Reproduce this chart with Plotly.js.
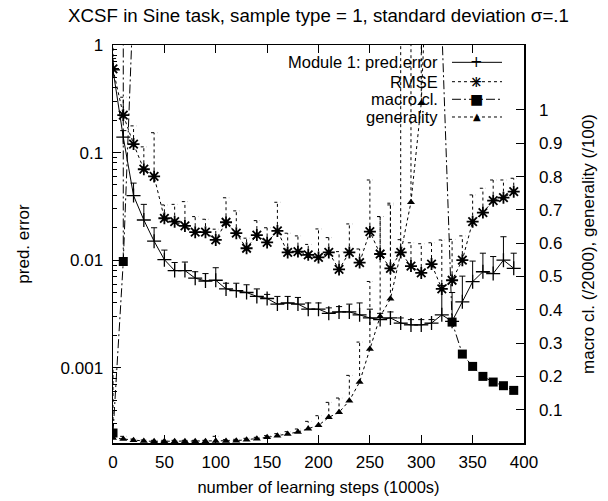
<!DOCTYPE html>
<html>
<head>
<meta charset="utf-8">
<script src="https://cdn.plot.ly/plotly-3.0.1.min.js"></script>
<style>html,body{margin:0;padding:0;background:#fff;}#chart{width:608px;height:501px;}</style>
</head>
<body>
<div id="chart"></div>
<script>
// ---- data (learning steps in 1000s) ----
const steps = [0,10,20,30,40,50,60,70,80,90,100,110,120,130,140,150,160,170,180,190,200,210,220,230,240,250,260,270,280,290,300,310,320,330,340,350,360,370,380,390];

const predErr = [0.586,0.139,0.0398,0.0236,0.0150,0.0101,0.0080,0.0080,0.0068,0.0064,
  0.0065,0.0054,0.0052,0.0050,0.0046,0.0044,0.0039,0.0040,0.0039,0.0035,
  0.0035,0.0032,0.0033,0.0033,0.0031,0.0029,0.0028,0.0029,0.0026,0.0025,
  0.0025,0.0026,0.0031,0.0027,0.0041,0.0063,0.0078,0.0075,0.0100,0.0084];
const predErrTop = [0.75,0.16,0.052,0.033,0.020,0.0124,0.0095,0.0096,0.0078,0.0075,
  0.0085,0.0061,0.0061,0.0059,0.0054,0.0048,0.0046,0.0046,0.0045,0.0040,
  0.0040,0.0036,0.0037,0.0039,0.0040,0.0035,0.0032,0.0033,0.0029,0.0028,
  0.0028,0.0028,0.0058,0.0050,0.0071,0.0098,0.0116,0.0108,0.0165,0.0116];

const rmse = [0.60,0.223,0.120,0.070,0.060,0.0245,0.0228,0.0208,0.0182,0.0182,
  0.0154,0.0225,0.0178,0.0129,0.0171,0.0146,0.0187,0.0118,0.0120,0.0112,
  0.0106,0.0118,0.0082,0.0118,0.0095,0.0184,0.0114,0.0084,0.0118,0.0088,
  0.0076,0.0092,0.0054,0.0065,0.0100,0.0228,0.0277,0.0357,0.0381,0.0433];
const rmseTop = [1.5,0.327,0.177,0.113,0.153,0.0326,0.033,0.035,0.0254,0.024,
  0.0194,0.038,0.0287,0.016,0.0233,0.020,0.0345,0.0178,0.0168,0.014,
  0.0195,0.0162,0.012,0.0217,0.0127,0.0556,0.0254,0.0326,0.0155,0.0145,
  0.0142,0.0145,0.0154,0.0156,0.0168,0.0404,0.0466,0.0556,0.0556,0.0577];

// macro classifiers (/2000), right axis
const macroCl = [0.03,0.545,1.35,1.6,1.7,1.75,1.8,1.8,1.85,1.85,
  1.9,1.9,1.9,1.9,1.9,1.9,1.9,1.85,1.85,1.85,
  1.8,1.8,1.75,1.75,1.7,1.7,1.65,1.6,1.55,1.5,
  1.45,1.4,1.25,0.363,0.267,0.23,0.20,0.183,0.172,0.158];
const macroClTop = [null,1.6,null,null,null,null,null,null,null,null,
  null,null,null,null,null,null,null,null,null,null,
  null,null,null,null,null,null,null,null,null,null,
  null,null,null,null,null,null,null,null,null,null];

// generality (/100), right axis
const generality = [0.015,0.012,0.008,0.006,0.005,0.005,0.005,0.005,0.005,0.005,
  0.006,0.006,0.007,0.010,0.013,0.017,0.022,0.027,0.033,0.043,
  0.053,0.077,0.092,0.127,0.183,0.282,0.38,0.433,0.57,0.723,
  1.02,1.8,2.2,2.4,2.6,2.7,2.8,2.9,2.95,3.0];
const generalityTop = [0.22,0.02,0.012,0.009,0.008,0.008,0.008,0.008,0.008,0.008,
  0.02,0.01,0.011,0.014,0.017,0.022,0.028,0.034,0.042,0.065,
  0.082,0.122,0.135,0.203,0.303,0.485,0.68,0.72,1.5,1.6,
  1.7,2.5,2.8,3.0,3.2,3.3,3.4,3.5,3.5,3.6];

const xTicks = [0,50,100,150,200,250,300,350,400];
const yTicks = [0.001,0.01,0.1,1];
const yTickText = ['0.001','0.01','0.1','1'];
const y2Ticks = [0.1,0.2,0.3,0.4,0.5,0.6,0.7,0.8,0.9,1];
const y2TickText = ['0.1','0.2','0.3','0.4','0.5','0.6','0.7','0.8','0.9','1'];

const seriesNames = ['Module 1: pred.error','RMSE','macro cl.','generality'];
const titleText = 'XCSF in Sine task, sample type = 1, standard deviation σ=.1';

// ---- helpers ----
const FONT = 'Liberation Sans, Arial, Helvetica, sans-serif';
const CAP = 3; // half cap width in x units
function errSegs(xs, lo, hi) {
  const X = [], Y = [];
  for (let i = 0; i < xs.length; i++) {
    if (hi[i] == null) continue;
    X.push(xs[i], xs[i], null, xs[i] - CAP, xs[i] + CAP, null);
    Y.push(lo[i], hi[i], null, hi[i], hi[i], null);
  }
  return {X, Y};
}
const DASH_RMSE = '3px,3px';
const DASH_GEN = '3px,3px';
const DASH_MACRO = '9px,3px,2px,3px';

const ePred = errSegs(steps, predErr, predErrTop);
const eRmse = errSegs(steps, rmse, rmseTop);
const eMacro = errSegs(steps, macroCl, macroClTop);
const eGen = errSegs(steps, generality, generalityTop);

const traces = [
  {x: ePred.X, y: ePred.Y, mode: 'lines', line: {color: 'black', width: 1}, hoverinfo: 'skip', showlegend: false},
  {x: steps, y: predErr, name: seriesNames[0], mode: 'lines+markers',
   line: {color: 'black', width: 1},
   marker: {symbol: 'cross-thin', size: 10, color: 'black', line: {color: 'black', width: 1.3}}},
  {x: eRmse.X, y: eRmse.Y, mode: 'lines', line: {color: 'black', width: 1, dash: DASH_RMSE}, hoverinfo: 'skip', showlegend: false},
  {x: steps, y: rmse, name: seriesNames[1], mode: 'lines+markers',
   line: {color: 'black', width: 1, dash: DASH_RMSE},
   marker: {symbol: 'asterisk', size: 10, color: 'black', line: {color: 'black', width: 1.8}}},
  {x: eMacro.X, y: eMacro.Y, yaxis: 'y2', mode: 'lines', line: {color: 'black', width: 1, dash: DASH_MACRO}, hoverinfo: 'skip', showlegend: false},
  {x: steps, y: macroCl, yaxis: 'y2', name: seriesNames[2], mode: 'lines+markers',
   line: {color: 'black', width: 1, dash: DASH_MACRO},
   marker: {symbol: 'square', size: 9, color: 'black'}},
  {x: eGen.X, y: eGen.Y, yaxis: 'y2', mode: 'lines', line: {color: 'black', width: 1, dash: DASH_GEN}, hoverinfo: 'skip', showlegend: false},
  {x: steps, y: generality, yaxis: 'y2', name: seriesNames[3], mode: 'lines+markers',
   line: {color: 'black', width: 1, dash: DASH_GEN},
   marker: {symbol: 'triangle-up', size: 7, color: 'black'}}
];

// ---- gnuplot-like key (text right-aligned, sample to the right) ----
const keyRows = [0.9565, 0.9078, 0.8636, 0.8191];
const keyTextX = 0.7956, keyL0 = 0.8248, keyL1 = 0.9465, keyMid = 0.8856;
const keyDash = ['solid', DASH_RMSE, DASH_MACRO, DASH_GEN];
const keyGlyphs = [['+'], ['+', '×'], ['■'], ['▲']];
const keyGlyphSize = [[15], [15, 15], [14], [10]];
const annotations = [], shapes = [];
seriesNames.forEach((n, i) => {
  annotations.push({xref: 'paper', yref: 'paper', x: keyTextX, y: keyRows[i], xanchor: 'right', yanchor: 'middle',
    text: n, showarrow: false, font: {family: FONT, size: 16.5, color: 'black'}});
  shapes.push({type: 'line', xref: 'paper', yref: 'paper', x0: keyL0, x1: keyL1, y0: keyRows[i], y1: keyRows[i],
    line: {color: 'black', width: 1, dash: keyDash[i]}});
  keyGlyphs[i].forEach((g, j) => {
    annotations.push({xref: 'paper', yref: 'paper', x: keyMid, y: keyRows[i], xanchor: 'center', yanchor: 'middle',
      text: g, showarrow: false, font: {family: 'DejaVu Sans', size: keyGlyphSize[i][j], color: 'black'}});
  });
});

const layout = {
  width: 608, height: 501,
  margin: {l: 113, r: 84, t: 45, b: 58},
  paper_bgcolor: 'white', plot_bgcolor: 'white',
  font: {family: FONT, size: 17, color: 'black'},
  showlegend: false,
  title: {text: titleText, x: 0.5, xref: 'paper', xanchor: 'center', y: 0.97, yref: 'container', yanchor: 'middle',
          font: {family: FONT, size: 18.7, color: 'black'}},
  xaxis: {range: [0, 400], tickvals: xTicks, ticktext: xTicks.map(String), ticks: 'inside', ticklen: 8, tickwidth: 1,
          tickcolor: 'black', showline: true, linecolor: 'black', linewidth: 1.5, mirror: 'ticks',
          showgrid: false, zeroline: false, ticklabelstandoff: 3,
          title: {text: 'number of learning steps (1000s)', standoff: 10, font: {family: FONT, size: 16.5}}},
  yaxis: {type: 'log', range: [-3.70, 0], tickvals: yTicks, ticktext: yTickText, ticks: 'inside', ticklen: 8,
          tickwidth: 1, tickcolor: 'black', showline: true, linecolor: 'black', linewidth: 1.5, mirror: true,
          showgrid: false, zeroline: false, ticklabelstandoff: 5,
          minor: {ticks: 'inside', ticklen: 4, dtick: 'D1', tickcolor: 'black', showgrid: false},
          title: {text: 'pred. error', standoff: 26, font: {family: FONT, size: 17}}},
  yaxis2: {overlaying: 'y', side: 'right', range: [0, 1.195], tickvals: y2Ticks, ticktext: y2TickText,
           ticks: 'inside', ticklen: 8, tickwidth: 1, tickcolor: 'black', showline: true, linecolor: 'black',
           linewidth: 1.5, showgrid: false, zeroline: false, ticklabelstandoff: 10,
           title: {text: 'macro cl. (/2000), generality (/100)', standoff: 20, font: {family: FONT, size: 17}}},
  annotations: annotations,
  shapes: shapes
};

Plotly.newPlot('chart', traces, layout, {displayModeBar: false, staticPlot: true});
</script>
</body>
</html>
